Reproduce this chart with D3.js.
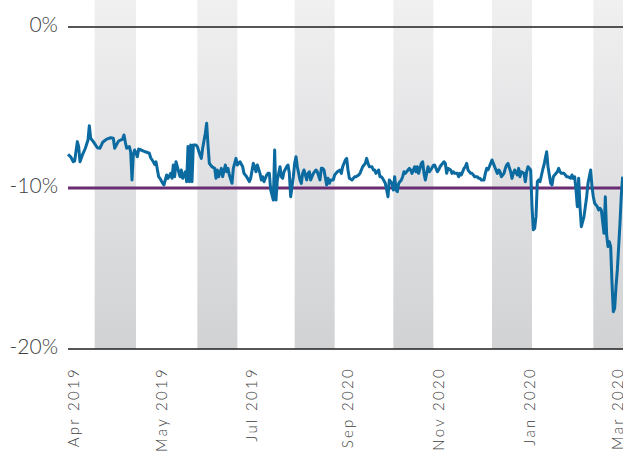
<!DOCTYPE html>
<html>
<head>
<meta charset="utf-8">
<script src="https://cdn.jsdelivr.net/npm/d3@7"></script>
<style>
  body { margin: 0; background: #fff; }
  svg text { font-family: Lato, "Open Sans", sans-serif; font-weight: 300; fill: #404040; }
</style>
</head>
<body>
<svg id="chart"></svg>
<script>
var screen = {width: 623, height: 453};
var margins = {top: 27, left: 68};

// trading day index of each reading
var days = [0,2,4,5,7,8,9,11,13,15,16,17,19,22,24,26,29,32,34,35,37,38,41,42,43,44,46,47,48,49,50,52,53,55,58,61,62,64,65,
  66,68,69,71,72,74,75,77,78,79,80,81,83,84,85,86,88,89,90,91,92,93,94,96,97,99,100,101,103,104,105,106,108,110,111,112,113,115,116,118,119,120,121,123,124,126,127,129,131,132,134,136,
  137,139,140,141,142,144,145,146,147,149,150,151,152,154,155,156,157,159,160,161,162,164,165,166,167,169,170,171,172,174,175,176,177,179,180,181,182,184,185,186,187,189,190,191,192,194,195,196,197,199,200,201,202,204,205,
  206,208,209,210,211,213,214,215,216,218,219,220,221,223,224,225,226,228,229,230,231,233,234,235,236,238,239,240,241,243,244,245,246,247,248,250,251,252,253,255,256,257,258,260,261,262,263,265,266,267,268,270,271,272,274,
  275,277,278,279,280,282,283,284,285,287,288,289,290,292,293,294,295,297,298,299,300,302,303,304,305,307,308,309,310,312,313,314,315,317,318,319,320,322,323,324,325,327,328,329,330,332,333,334,335,337,338,339,340,342,343,344,345,347,
  348,349,350,351,352,353,354,356,357,358,359,360,362,363,364,365,367,368,369,370,372,373,374,375,377,378,379,380,381,382,383,384,385,387,388,389,390,392,393,394,395,397,398,399,400,402,403,404,405,406,407,408,409,410,411,412,414,415,416];

// relative performance, %
var pct = [-7.91,-8.06,-8.37,-8.32,-7.12,-7.43,-8.37,-7.91,-7.53,-7.02,-6.13,-6.91,-7.12,-7.50,-7.53,-7.16,-6.96,-6.88,-6.91,-7.53,-7.22,-7.08,-6.96,-6.71,-7.16,-7.53,-7.43,-7.75,-9.50,-7.95,-7.64,-8.06,-7.58,-7.64,-7.75,-7.84,-8.12,-8.37,-8.53,
  -8.37,-9.30,-9.40,-9.71,-9.81,-9.19,-9.40,-9.09,-9.40,-8.57,-9.30,-8.37,-8.99,-9.30,-8.88,-9.40,-8.99,-9.61,-7.43,-9.61,-7.33,-9.61,-7.33,-7.33,-7.43,-7.95,-8.16,-7.53,-6.60,-5.98,-7.33,-8.47,-8.68,-8.78,-9.40,-8.88,-9.30,-8.78,-9.30,-8.57,-8.99,-8.78,-9.19,-9.71,-8.78,-8.16,-8.57,-8.37,-8.68,-9.09,-9.30,-9.60,
  -9.40,-8.47,-8.68,-8.99,-8.57,-9.09,-9.50,-9.30,-9.61,-9.19,-9.09,-9.09,-10.12,-10.75,-7.64,-10.75,-9.50,-8.68,-9.30,-9.40,-8.99,-8.68,-8.57,-9.09,-10.54,-9.30,-8.47,-8.06,-8.68,-9.50,-9.71,-9.09,-8.88,-9.50,-9.09,-8.99,-9.50,-9.09,-8.99,-8.88,-8.99,-9.50,-8.78,-8.78,-8.88,-9.81,-9.40,-9.71,-9.50,-9.50,-9.19,-9.09,-8.99,-8.88,-9.09,
  -8.68,-8.26,-8.16,-8.88,-9.40,-9.50,-9.40,-9.30,-9.30,-9.19,-9.09,-8.88,-8.68,-8.47,-8.16,-8.47,-8.68,-8.68,-8.88,-8.88,-9.09,-8.88,-9.30,-9.30,-9.40,-9.71,-10.12,-10.54,-9.50,-9.71,-10.12,-9.30,-10.12,-10.23,-9.71,-9.50,-9.30,-8.99,-9.09,-8.88,-8.78,-8.88,-9.09,-8.68,-8.99,-8.68,-9.09,-8.47,-8.37,-9.09,-9.50,-8.68,-8.99,-8.88,-8.60,
  -8.57,-8.99,-8.88,-8.68,-8.57,-8.37,-8.47,-9.09,-8.78,-8.88,-9.09,-8.99,-9.09,-9.09,-9.30,-9.09,-9.19,-8.78,-8.68,-8.47,-8.88,-9.09,-9.09,-9.19,-9.30,-9.30,-9.40,-9.40,-9.50,-9.50,-9.09,-8.78,-8.88,-8.47,-8.26,-8.47,-8.68,-9.09,-8.88,-8.99,-9.30,-9.09,-8.78,-8.57,-8.47,-8.99,-9.40,-9.09,-8.88,-9.19,-8.78,-9.30,-8.99,-9.09,-9.61,-8.99,-8.68,-8.88,
  -11.16,-12.60,-12.50,-11.78,-9.61,-9.50,-9.61,-8.88,-8.57,-8.16,-7.75,-8.68,-9.71,-9.81,-9.30,-9.19,-8.99,-8.78,-8.99,-9.09,-9.09,-9.19,-9.30,-9.30,-9.40,-9.19,-9.40,-9.30,-10.12,-11.16,-9.40,-11.16,-12.40,-11.78,-11.16,-10.54,-9.71,-8.88,-9.92,-10.54,-10.95,-11.16,-11.37,-11.26,-11.37,-12.81,-10.54,-12.92,-13.64,-13.33,-13.64,-15.92,-17.68,-17.47,-16.13,-15.09,-12.19,-10.43,-9.30];

var tickDays = [8, 74, 142, 214, 282, 350, 416];
var tickLabels = ["Apr 2019", "May 2019", "Jul 2019", "Sep 2020", "Nov 2020", "Jan 2020", "Mar 2020"];

var bandStart = [20, 97, 170, 244, 318, 394];
var bandEnd   = [51, 127, 200, 274, 348, 430];

var yTicks = [0, -10, -20];
var benchmark = -10;

var svg = d3.select("#chart")
    .attr("width", screen.width)
    .attr("height", screen.height);

var xScale = d3.scaleLinear()
    .domain([0, 420])
    .range([margins.left, margins.left + 560]);

var yScale = d3.scaleLinear()
    .domain([-20, 0])
    .range([349, margins.top]);

var grad = svg.append("defs")
    .append("linearGradient")
    .attr("id", "bandGrad")
    .attr("x1", 0).attr("y1", 0).attr("x2", 0).attr("y2", 1);
grad.append("stop").attr("offset", "0%").attr("stop-color", "#f0f0f1");
grad.append("stop").attr("offset", "100%").attr("stop-color", "#d1d2d4");

// shaded months
svg.append("g")
    .selectAll("rect")
    .data(bandStart)
    .enter()
    .append("rect")
    .attr("x", function(d){ return xScale(d); })
    .attr("y", 0)
    .attr("width", function(d, i){ return xScale(bandEnd[i]) - xScale(d); })
    .attr("height", yScale(-20))
    .attr("fill", "url(#bandGrad)");

// 0% and -20% rules
svg.append("g")
    .selectAll("line")
    .data([0, -20])
    .enter()
    .append("line")
    .attr("x1", xScale(0))
    .attr("x2", screen.width)
    .attr("y1", function(d){ return yScale(d); })
    .attr("y2", function(d){ return yScale(d); })
    .attr("stroke", "#1e1e1e")
    .attr("stroke-width", 1.6);

svg.append("line")
    .attr("x1", xScale(0))
    .attr("x2", screen.width)
    .attr("y1", yScale(benchmark))
    .attr("y2", yScale(benchmark))
    .attr("stroke", "#6a2d72")
    .attr("stroke-width", 3);

var series = days.map(function(d, i){ return {day: d, value: pct[i]}; });

svg.append("path")
    .datum(series)
    .attr("fill", "none")
    .attr("stroke", "#0b6aa0")
    .attr("stroke-width", 3)
    .attr("stroke-linejoin", "round")
    .attr("d", d3.line()
        .x(function(d){ return xScale(d.day); })
        .y(function(d){ return yScale(d.value); }));

// y labels
svg.append("g")
    .selectAll("text")
    .data(yTicks)
    .enter()
    .append("text")
    .attr("x", 58)
    .attr("y", function(d){ return yScale(d); })
    .attr("dy", "0.26em")
    .attr("text-anchor", "end")
    .style("font-size", "21px")
    .text(function(d){ return d + "%"; });

// x labels, rotated
svg.append("g")
    .selectAll("text")
    .data(tickDays)
    .enter()
    .append("text")
    .attr("transform", function(d){ return "translate(" + xScale(d) + ",367) rotate(-90)"; })
    .attr("text-anchor", "end")
    .style("font-size", "15px")
    .style("letter-spacing", "2.3px")
    .text(function(d, i){ return tickLabels[i]; });
</script>
</body>
</html>
